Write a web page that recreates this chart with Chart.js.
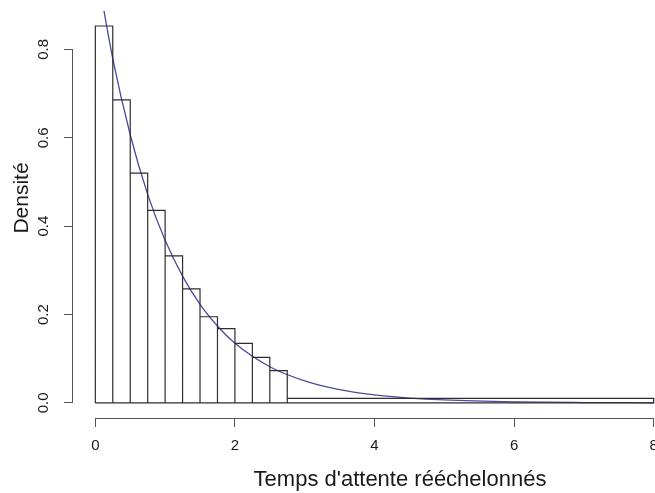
<!DOCTYPE html>
<html>
<head>
<meta charset="utf-8">
<script src="https://cdn.jsdelivr.net/npm/chart.js@4.4.1/dist/chart.umd.min.js"></script>
<style>
  html, body { margin: 0; padding: 0; background: #fff; overflow: hidden; }
  #wrap { width: 655px; height: 493px; overflow: hidden; }
</style>
</head>
<body>
<div id="wrap"><canvas id="chart" width="700" height="493"></canvas></div>
<script>
// Histogram bins (edges) and densities
const binEdges = [0, 0.25, 0.5, 0.75, 1, 1.25, 1.5, 1.75, 2, 2.25, 2.5, 2.75, 8];
const densities = [0.853, 0.686, 0.520, 0.436, 0.333, 0.258, 0.195, 0.168, 0.135, 0.103, 0.073, 0.0104];

// Density curve
const curveX = [0, 0.25, 0.5, 0.75, 1, 1.25, 1.5, 1.75, 2, 2.5, 3, 3.5, 4, 4.5, 5, 6, 7, 8];
const curveY = [1.0, 0.779, 0.607, 0.472, 0.368, 0.287, 0.223, 0.174, 0.135, 0.082, 0.050, 0.030, 0.018, 0.011, 0.0067, 0.0025, 0.0009, 0.0003];

// Axis ticks
const xTicks = [0, 2, 4, 6, 8];
const yTicks = [0, 0.2, 0.4, 0.6, 0.8];

// Histogram outline as one polyline: up, across, down for each bin, then back along the base
const histPoints = [];
for (let i = 0; i < densities.length; i++) {
  histPoints.push({ x: binEdges[i], y: 0 });
  histPoints.push({ x: binEdges[i], y: densities[i] });
  histPoints.push({ x: binEdges[i + 1], y: densities[i] });
  histPoints.push({ x: binEdges[i + 1], y: 0 });
}
histPoints.push({ x: binEdges[0], y: 0 });

const curvePoints = curveX.map((x, i) => ({ x: x, y: curveY[i] }));

const FONT = "'Liberation Sans', Arial, sans-serif";
const TEXT = "#1a1a1a";
const AXIS = "#555555";

// R-style axis lines (first to last tick) and axis titles
const rAxes = {
  id: "rAxes",
  afterDraw(chart) {
    const ctx = chart.ctx;
    const xs = chart.scales.x;
    const ys = chart.scales.y;
    const area = chart.chartArea;
    ctx.save();
    ctx.strokeStyle = AXIS;
    ctx.lineWidth = 1;
    ctx.beginPath();
    ctx.moveTo(xs.getPixelForValue(xTicks[0]), area.bottom + 0.5);
    ctx.lineTo(xs.getPixelForValue(xTicks[xTicks.length - 1]), area.bottom + 0.5);
    ctx.moveTo(area.left - 0.5, ys.getPixelForValue(yTicks[0]));
    ctx.lineTo(area.left - 0.5, ys.getPixelForValue(yTicks[yTicks.length - 1]));
    ctx.stroke();

    ctx.fillStyle = TEXT;
    ctx.textAlign = "center";
    ctx.textBaseline = "alphabetic";
    ctx.font = "22px " + FONT;
    ctx.fillText("Temps d'attente rééchelonnés", 400, 486);

    ctx.font = "21px " + FONT;
    ctx.translate(28, 198);
    ctx.rotate(-Math.PI / 2);
    ctx.fillText("Densité", 0, 0);
    ctx.restore();
  }
};

// no label overflow padding, the plot box is fixed like in R
function noPad(scale) {
  scale.paddingTop = 0;
  scale.paddingBottom = 0;
  scale.paddingLeft = 0;
  scale.paddingRight = 0;
}

new Chart(document.getElementById("chart"), {
  type: "line",
  data: {
    datasets: [
      {
        label: "hist",
        data: histPoints,
        borderColor: "#2e2e2e",
        borderWidth: 1.2,
        pointRadius: 0,
        fill: false,
        tension: 0
      },
      {
        label: "densite",
        data: curvePoints,
        borderColor: "#4a4aa0",
        borderWidth: 1.3,
        pointRadius: 0,
        fill: false,
        cubicInterpolationMode: "monotone"
      }
    ]
  },
  options: {
    responsive: false,
    animation: false,
    events: [],
    layout: { padding: { top: 11, right: 24, left: 0, bottom: 0 } },
    plugins: {
      legend: { display: false },
      tooltip: { enabled: false }
    },
    scales: {
      x: {
        type: "linear",
        min: -0.32,
        max: 8.32,
        afterBuildTicks: (scale) => { scale.ticks = xTicks.map((v) => ({ value: v })); },
        afterFit: (scale) => { scale.height = 75; noPad(scale); },
        border: { display: false },
        grid: { drawOnChartArea: false, drawTicks: true, tickLength: 9, color: AXIS },
        ticks: {
          padding: 10,
          color: TEXT,
          font: { family: FONT, size: 15 },
          maxRotation: 0,
          autoSkip: false,
          callback: (v) => String(v)
        }
      },
      y: {
        type: "linear",
        min: -0.0341,
        max: 0.887,
        afterBuildTicks: (scale) => { scale.ticks = yTicks.map((v) => ({ value: v })); },
        afterFit: (scale) => { scale.width = 73; noPad(scale); },
        border: { display: false },
        grid: { drawOnChartArea: false, drawTicks: true, tickLength: 9, color: AXIS },
        ticks: {
          padding: 10,
          color: TEXT,
          font: { family: FONT, size: 15 },
          minRotation: 90,
          maxRotation: 90,
          crossAlign: "center",
          autoSkip: false,
          callback: (v) => v.toFixed(1)
        }
      }
    }
  },
  plugins: [rAxes]
});
</script>
</body>
</html>
